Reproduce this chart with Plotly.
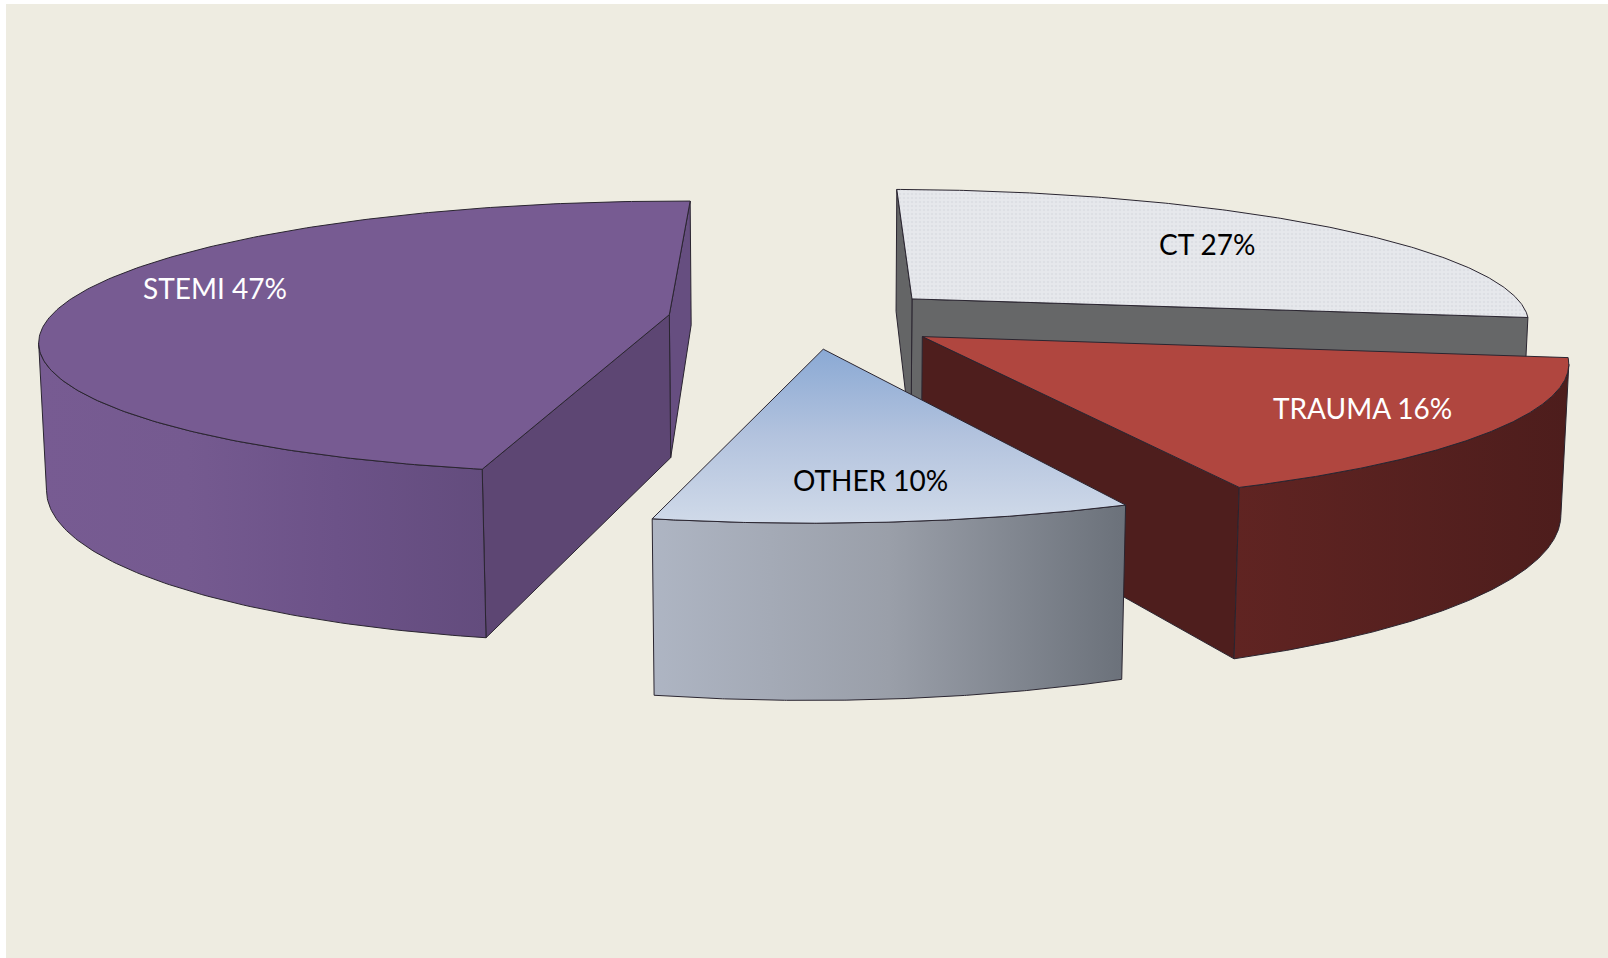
import numpy as np
import plotly.graph_objects as go

# Share of cases per category, clockwise from the back of the pie
categories = ["CT", "TRAUMA", "OTHER", "STEMI"]
shares = [27, 16, 10, 47]

# Camera used to project the pie onto the page (page pixels)
CENTER_X, CENTER_Y = 808.0, 318.0
SCALE_X, SCALE_Y, THICKNESS = 620.0, 133.5, 145.0
DEPTH_PERSPECTIVE, DROP_PERSPECTIVE = 0.166, 0.01
LENS_BOW = 9.0
EXPLODE = 0.226
FIRST_ANGLE = 1.0

BACKGROUND = "#EEECE1"
EDGE = dict(color="#2A2530", width=1)

styles = {
    "CT": dict(top="#E6E8EC", outer=("#666768", "#666768"),
               start="#646566", end="#666768", text="black", label=(1207, 244)),
    "TRAUMA": dict(top="#B0463F", outer=("#602422", "#4D1D1C"),
                   start="#4E1E1D", end="#4E1E1D", text="white", label=(1362, 408)),
    "OTHER": dict(top=("#8AA9D4", "#B3C3DE", "#D0DAE9"), outer=("#AEB5C3", "#9A9FA9", "#6B717A"),
                  start="#6B717A", end="#AEB5C3", text="black", label=(870, 480)),
    "STEMI": dict(top="#775B92", outer=("#775B92", "#755A90", "#6C5288", "#634C7D"),
                  start="#5D4673", end="#664E80", text="white", label=(215, 288)),
}
draw_order = ["CT", "TRAUMA", "STEMI", "OTHER"]


def project(x, y, z):
    """Map pie coordinates (y towards the viewer, z down the wall) to the page."""
    x, y = np.asarray(x, dtype=float), np.asarray(y, dtype=float)
    w = 1 - DEPTH_PERSPECTIVE * y + DROP_PERSPECTIVE * z
    return (CENTER_X + (SCALE_X * x - LENS_BOW * y ** 2) / w,
            CENTER_Y + (SCALE_Y * y + THICKNESS * z) / w)


def faces_viewer(p, q):
    """A wall under the edge p -> q is visible when it runs right to left in traversal."""
    return (q[0] - p[0]) < 0


def polygon(fig, xs, ys, fill, gradient_axis=None):
    if isinstance(fill, str):
        kwargs = dict(fillcolor=fill)
    else:
        span = xs if gradient_axis == "horizontal" else ys
        stops = np.linspace(0, 1, len(fill))
        kwargs = dict(fillgradient=dict(
            type=gradient_axis,
            colorscale=[[float(s), c] for s, c in zip(stops, fill)],
            start=float(np.min(span)), stop=float(np.max(span)),
        ))
    fig.add_trace(go.Scatter(
        x=np.r_[xs, xs[0]], y=np.r_[ys, ys[0]], mode="lines", fill="toself",
        line=EDGE, hoverinfo="skip", showlegend=False, **kwargs,
    ))


fractions = np.array(shares, dtype=float) / sum(shares)
edges = FIRST_ANGLE + 360 * np.r_[0, np.cumsum(fractions)]
fig = go.Figure()

for name in draw_order:
    i = categories.index(name)
    style = styles[name]
    a0, a1 = edges[i], edges[i + 1]
    mid = np.radians((a0 + a1) / 2)
    cx, cy = EXPLODE * np.sin(mid), -EXPLODE * np.cos(mid)
    theta = np.radians(np.linspace(a0, a1, 241))
    rim_x, rim_y = cx + np.sin(theta), cy - np.cos(theta)

    top_u, top_v = project(rim_x, rim_y, 0)
    bot_u, bot_v = project(rim_x, rim_y, 1)
    hub_top = project(cx, cy, 0)
    hub_bot = project(cx, cy, 1)

    # Far radial wall, then the near radial wall
    if faces_viewer((top_u[-1], top_v[-1]), hub_top):
        polygon(fig, np.array([hub_top[0], top_u[-1], bot_u[-1], hub_bot[0]]),
                np.array([hub_top[1], top_v[-1], bot_v[-1], hub_bot[1]]), style["end"])
    if faces_viewer(hub_top, (top_u[0], top_v[0])):
        polygon(fig, np.array([hub_top[0], top_u[0], bot_u[0], hub_bot[0]]),
                np.array([hub_top[1], top_v[0], bot_v[0], hub_bot[1]]), style["start"])

    # Outer curved wall, only the part turned to the viewer
    visible = np.diff(top_u) < 0
    if visible.any():
        idx = np.flatnonzero(visible)
        idx = np.r_[idx, idx[-1] + 1]
        polygon(fig, np.r_[top_u[idx], bot_u[idx][::-1]],
                np.r_[top_v[idx], bot_v[idx][::-1]], style["outer"], "horizontal")

    # Top face
    xs = np.r_[hub_top[0], top_u]
    ys = np.r_[hub_top[1], top_v]
    if name == "CT":
        fig.add_trace(go.Scatter(
            x=np.r_[xs, xs[0]], y=np.r_[ys, ys[0]], mode="lines", fill="toself",
            fillcolor=style["top"], line=EDGE, hoverinfo="skip", showlegend=False,
            fillpattern=dict(shape=".", bgcolor=style["top"], fgcolor="#D3D6DC",
                             size=4, solidity=0.35),
        ))
    else:
        polygon(fig, xs, ys, style["top"], "vertical")

    fig.add_annotation(
        x=style["label"][0], y=style["label"][1], text=f"{name} {shares[i]}%",
        showarrow=False, font=dict(family="Lato", size=28, color=style["text"]),
    )

fig.update_layout(
    width=1608, height=958, margin=dict(l=6, r=0, t=4, b=0, pad=0),
    paper_bgcolor="white", plot_bgcolor=BACKGROUND, showlegend=False,
    xaxis=dict(range=[6, 1608], visible=False, fixedrange=True),
    yaxis=dict(range=[958, 4], visible=False, fixedrange=True),
)
fig.write_html("out.html", config=dict(displayModeBar=False))
